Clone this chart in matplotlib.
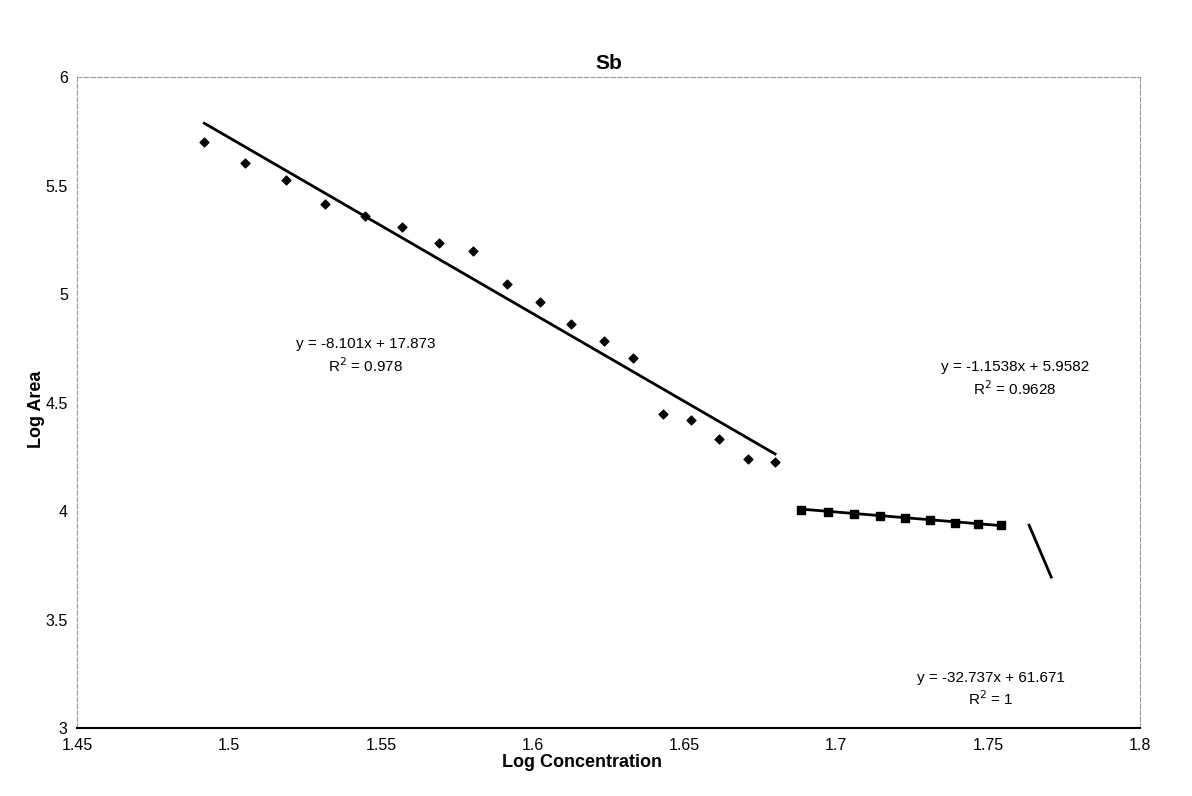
import numpy as np
import matplotlib
matplotlib.use("Agg")
from matplotlib import pyplot as plt

plt.rcParams['font.family'] = ['Liberation Sans', 'DejaVu Sans']

# series 1 (diamonds)
x1 = [1.4918, 1.5053, 1.5188, 1.5316, 1.5447, 1.5569, 1.5691, 1.5803, 1.5914,
      1.6023, 1.6128, 1.6234, 1.6332, 1.6428, 1.6523, 1.6615, 1.6711, 1.6799]
y1 = [5.700, 5.603, 5.525, 5.414, 5.359, 5.308, 5.234, 5.197, 5.045,
      4.966, 4.865, 4.786, 4.708, 4.449, 4.422, 4.334, 4.242, 4.228]

# series 2 (squares)
x2 = [1.6885, 1.6974, 1.7059, 1.7145, 1.7227, 1.7309, 1.7391, 1.7467, 1.7543]
y2 = [4.005, 3.999, 3.988, 3.978, 3.970, 3.960, 3.948, 3.943, 3.935]

# series 3 (two points, line only)
x3 = [1.7636, 1.7709]

# trendline coefficients (slope, intercept) and labels
slopes = [-8.101, -1.1538, -32.737]
intercepts = [17.873, 5.9582, 61.671]
eq_text = ["y = -8.101x + 17.873\nR$^2$ = 0.978",
           "y = -1.1538x + 5.9582\nR$^2$ = 0.9628",
           "y = -32.737x + 61.671\nR$^2$ = 1"]
eq_pos = [(1.545, 4.715), (1.759, 4.61), (1.751, 3.18)]

fig = plt.figure(figsize=(11.92, 7.96), dpi=100)
ax = fig.add_axes([0.065, 0.085, 0.891, 0.818])

ax.scatter(x1, y1, marker='D', s=20, color='black', zorder=3)
ax.scatter(x2, y2, marker='s', s=40, color='black', zorder=3)

for xs, m, b in zip([x1, x2, x3], slopes, intercepts):
    xx = np.array([xs[0], xs[-1]])
    ax.plot(xx, m * xx + b, color='black', lw=2, zorder=2)

for (tx, ty), t in zip(eq_pos, eq_text):
    ax.text(tx, ty, t, ha='center', va='center', fontsize=11, linespacing=1.3)

ax.set_xlim(1.45, 1.8)
ax.set_ylim(3, 6)
ax.set_xticks([1.45, 1.5, 1.55, 1.6, 1.65, 1.7, 1.75, 1.8])
ax.set_xticklabels(['1.45', '1.5', '1.55', '1.6', '1.65', '1.7', '1.75', '1.8'])
ax.set_yticks([3, 3.5, 4, 4.5, 5, 5.5, 6])
ax.set_yticklabels(['3', '3.5', '4', '4.5', '5', '5.5', '6'])
ax.tick_params(axis='both', labelsize=11.5, length=0, pad=7)

for s in ['left', 'top', 'right']:
    ax.spines[s].set_color('#999999')
    ax.spines[s].set_linestyle((0, (4, 2)))
    ax.spines[s].set_linewidth(0.8)
ax.spines['bottom'].set_color('black')
ax.spines['bottom'].set_linewidth(1.5)

ax.set_title("Sb", fontsize=15, fontweight='bold', pad=6)
ax.set_xlabel("Log Concentration", fontsize=13, fontweight='bold')
ax.set_ylabel("Log Area", fontsize=13, fontweight='bold')
ax.xaxis.set_label_coords(0.4755, -0.040)
ax.yaxis.set_label_coords(-0.031, 0.49)

fig.savefig("out.png", dpi=100)
